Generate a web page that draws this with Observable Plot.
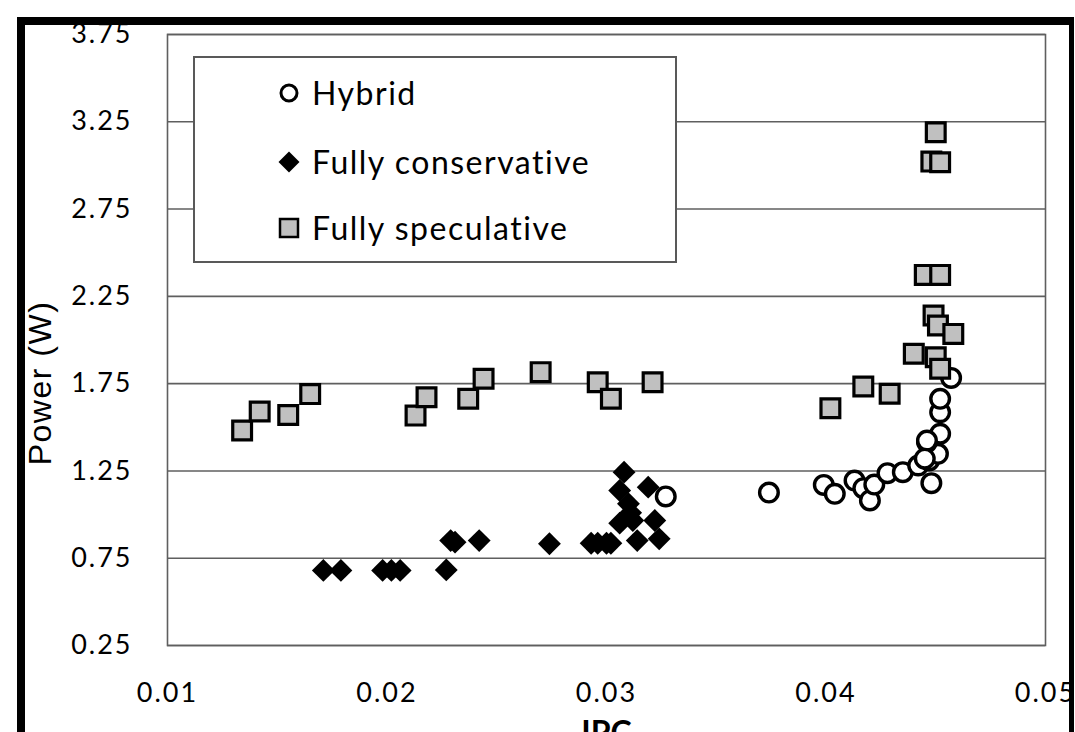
<!DOCTYPE html>
<html>
<head>
<meta charset="utf-8">
<script src="https://cdn.jsdelivr.net/npm/d3@7"></script>
<script src="https://cdn.jsdelivr.net/npm/@observablehq/plot@0.6"></script>
<style>
  html, body { margin: 0; padding: 0; background: #fff; overflow: hidden; }
  #wrap { position: relative; width: 1075px; height: 732px; overflow: hidden; }
  #border { position: absolute; left: 17px; top: 17px; width: 1057px; height: 900px;
    box-sizing: border-box; border-top: 8px solid #000; border-left: 8px solid #000; border-right: 5px solid #000; z-index: 5; pointer-events: none; }
  #legend { position: absolute; left: 193px; top: 56px; width: 484px; height: 207px; box-sizing: border-box;
    border: 2px solid #595959; background: #fff; z-index: 3; font-family: Lato, sans-serif; font-size: 32px; letter-spacing: 1.5px; color: #000; }
  .item { position: absolute; left: 0; height: 40px; display: flex; align-items: center; }
  .item svg { position: absolute; left: 82px; top: 8px; }
  .item span { position: absolute; left: 117px; white-space: nowrap; line-height: 40px; top: 0; }
</style>
</head>
<body>
<div id="wrap">
  <div id="chart"></div>
  <div id="legend"></div>
  <div id="border"></div>
</div>
<script>
// Tick values
const xTicks = [0.01, 0.02, 0.03, 0.04, 0.05];
const yTicks = [0.25, 0.75, 1.25, 1.75, 2.25, 2.75, 3.25, 3.75];

// Series names (legend order)
const seriesNames = ["Hybrid", "Fully conservative", "Fully speculative"];

// Hybrid
const hybridIPC   = [0.0327, 0.0374, 0.0399, 0.0404, 0.0413, 0.0417, 0.0420, 0.0422, 0.0428, 0.0435, 0.0442, 0.0447, 0.0448, 0.0451, 0.0446, 0.0452, 0.0452, 0.0452, 0.0457, 0.0446, 0.0445];
const hybridPower = [1.104, 1.126, 1.170, 1.119, 1.195, 1.151, 1.081, 1.172, 1.237, 1.243, 1.281, 1.310, 1.180, 1.348, 1.415, 1.463, 1.586, 1.663, 1.783, 1.424, 1.320];

// Fully conservative
const consIPC   = [0.0171, 0.0179, 0.0198, 0.0202, 0.0206, 0.0227, 0.0229, 0.0231, 0.0242, 0.0274, 0.0293, 0.0296, 0.0300, 0.0302, 0.0308, 0.0306, 0.0310, 0.0319, 0.0306, 0.0312, 0.0322, 0.0314, 0.0324, 0.0311];
const consPower = [0.680, 0.680, 0.680, 0.680, 0.680, 0.683, 0.851, 0.842, 0.851, 0.833, 0.836, 0.836, 0.836, 0.836, 1.243, 1.138, 1.062, 1.157, 0.951, 0.966, 0.966, 0.851, 0.861, 1.010];

// Fully speculative
const specIPC   = [0.0134, 0.0142, 0.0155, 0.0165, 0.0213, 0.0218, 0.0237, 0.0244, 0.0270, 0.0296, 0.0302, 0.0321, 0.0402, 0.0417, 0.0429, 0.0440, 0.0449, 0.0451, 0.0458, 0.0450, 0.0452, 0.0450, 0.0448, 0.0452, 0.0445, 0.0452];
const specPower = [1.482, 1.590, 1.570, 1.690, 1.567, 1.672, 1.663, 1.778, 1.816, 1.758, 1.663, 1.758, 1.609, 1.734, 1.692, 1.921, 2.140, 2.083, 2.035, 1.901, 1.835, 3.190, 3.022, 3.018, 2.373, 2.373];

const toRows = (xs, ys) => xs.map((x, i) => ({ipc: x, power: ys[i]}));
const hybrid = toRows(hybridIPC, hybridPower);
const cons = toRows(consIPC, consPower);
const spec = toRows(specIPC, specPower);

const fmt = d3.format(".2f");

const plot = Plot.plot({
  width: 1075,
  height: 732,
  marginLeft: 167,
  marginRight: 30,
  marginTop: 34,
  marginBottom: 87,
  style: { fontFamily: "Lato, sans-serif", fontSize: "27px", color: "#000", background: "#fff", letterSpacing: "2px" },
  x: { domain: [0.01, 0.05], ticks: xTicks, tickFormat: fmt, tickSize: 0, tickPadding: 37, label: null },
  y: { domain: [0.25, 3.75], ticks: yTicks, tickFormat: fmt, tickSize: 0, tickPadding: 35, label: null },
  marks: [
    Plot.ruleY(yTicks, { stroke: "#5f5f5f", strokeWidth: 1.6 }),
    Plot.frame({ stroke: "#5f5f5f", strokeWidth: 1.6 }),
    Plot.dot(cons, { x: "ipc", y: "power", symbol: "diamond2", r: 10.3, fill: "#000", stroke: "none" }),
    Plot.dot(hybrid, { x: "ipc", y: "power", symbol: "circle", r: 9.3, fill: "#fff", stroke: "#000", strokeWidth: 3.4 }),
    Plot.dot(spec, { x: "ipc", y: "power", symbol: "square", r: 10.6, fill: "#c0c0c0", stroke: "#000", strokeWidth: 3.2 }),
    Plot.text(["IPC"], { text: d => d, frameAnchor: "bottom", dy: 88, lineAnchor: "middle", fontWeight: "bold", fontSize: 32, fill: "#000" }),
    Plot.text(["Power (W)"], { text: d => d, frameAnchor: "left", rotate: -90, dx: -127, dy: 43, lineAnchor: "middle", textAnchor: "middle", fontSize: 32, fontFamily: "Liberation Sans, Arial, sans-serif", fill: "#000" })
  ]
});
document.getElementById("chart").appendChild(plot);
d3.select(plot).selectAll("text").filter(function() { return this.textContent === "Power (W)"; })
  .style("letter-spacing", "1.5px");
d3.select(plot).selectAll("text").filter(function() { return this.textContent === "IPC"; })
  .style("letter-spacing", "0px");

// Legend
const legend = document.getElementById("legend");
const symbolsSvg = [
  '<svg width="24" height="24" viewBox="-12 -12 24 24"><circle r="8" fill="#fff" stroke="#000" stroke-width="3"/></svg>',
  '<svg width="24" height="24" viewBox="-12 -12 24 24"><path d="M0,-10.5L10.5,0L0,10.5L-10.5,0Z" fill="#000"/></svg>',
  '<svg width="24" height="24" viewBox="-12 -12 24 24"><rect x="-9" y="-9" width="18" height="18" fill="#c0c0c0" stroke="#000" stroke-width="2.5"/></svg>'
];
const rowTops = [15, 84, 150];
seriesNames.forEach((name, i) => {
  const div = document.createElement("div");
  div.className = "item";
  div.style.top = rowTops[i] + "px";
  div.innerHTML = symbolsSvg[i] + "<span>" + name + "</span>";
  legend.appendChild(div);
});
</script>
</body>
</html>
